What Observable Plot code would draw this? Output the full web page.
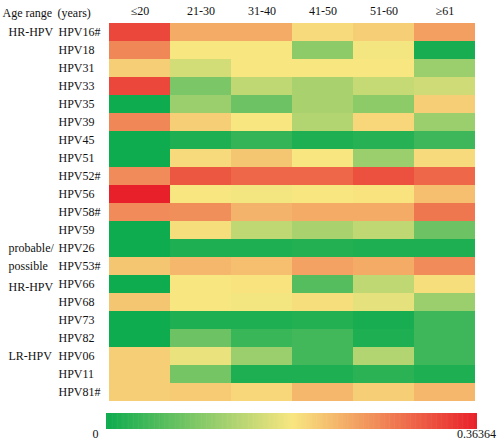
<!DOCTYPE html>
<html>
<head>
<meta charset="utf-8">
<script src="https://cdn.jsdelivr.net/npm/d3@7"></script>
<script src="https://cdn.jsdelivr.net/npm/@observablehq/plot@0.6"></script>
<style>
  html, body { margin: 0; padding: 0; background: #fff; }
  #chart svg { display: block; }
</style>
</head>
<body>
<div id="chart"></div>
<script>
const ageGroups = ["≤20", "21-30", "31-40", "41-50", "51-60", "≥61"];
const hpvTypes = ["HPV16#", "HPV18", "HPV31", "HPV33", "HPV35", "HPV39", "HPV45", "HPV51", "HPV52#", "HPV56", "HPV58#", "HPV59", "HPV26", "HPV53#", "HPV66", "HPV68", "HPV73", "HPV82", "HPV06", "HPV11", "HPV81#"];

// proportion of each HPV type per age group (row order = hpvTypes)
const age20 = [0.327, 0.269, 0.204, 0.327, 0, 0.269, 0, 0, 0.265, 0.364, 0.265, 0, 0, 0.211, 0, 0.211, 0, 0, 0.204, 0.204, 0.204];
const age21_30 = [0.236, 0.182, 0.153, 0.084, 0.109, 0.204, 0.011, 0.193, 0.313, 0.182, 0.262, 0.189, 0.011, 0.225, 0.182, 0.182, 0.011, 0.073, 0.171, 0.08, 0.207];
const age31_40 = [0.236, 0.182, 0.182, 0.138, 0.073, 0.182, 0.029, 0.211, 0.298, 0.178, 0.229, 0.138, 0.011, 0.218, 0.185, 0.178, 0.011, 0.033, 0.109, 0.011, 0.196];
const age41_50 = [0.193, 0.098, 0.182, 0.12, 0.12, 0.127, 0.011, 0.182, 0.298, 0.182, 0.236, 0.12, 0.015, 0.244, 0.055, 0.189, 0.015, 0.04, 0.04, 0.011, 0.225];
const age51_60 = [0.204, 0.178, 0.182, 0.142, 0.098, 0.196, 0.018, 0.109, 0.32, 0.185, 0.236, 0.138, 0.011, 0.236, 0.138, 0.167, 0.007, 0.011, 0.127, 0.022, 0.204];
const age61 = [0.247, 0.007, 0.109, 0.149, 0.204, 0.109, 0.036, 0.193, 0.298, 0.218, 0.284, 0.073, 0.011, 0.265, 0.189, 0.109, 0.036, 0.036, 0.036, 0.011, 0.225];

const groupLabels = ["HR-HPV", "probable/", "possible", "HR-HPV", "LR-HPV"];
const groupRows = ["HPV16#", "HPV26", "HPV53#", "HPV66", "HPV06"];

const legendTicks = [0, 0.36364];
const colorStops = ["#0fab4f", "#f8e680", "#e8202a"];

const series = [age20, age21_30, age31_40, age41_50, age51_60, age61];
const cells = [];
series.forEach((vals, i) => vals.forEach((v, j) => cells.push({age: ageGroups[i], type: hpvTypes[j], value: v})));
const groups = groupLabels.map((l, i) => ({label: l, type: groupRows[i], shift: groupRows[i] === "HPV66" ? 3 : 0}));

const colorOpt = {type: "linear", domain: [legendTicks[0], (legendTicks[0] + legendTicks[1]) / 2, legendTicks[1]], range: colorStops, interpolate: "rgb"};
const font = {fontFamily: "'Liberation Serif', 'DejaVu Serif', serif", fontSize: "12px", color: "#111", background: "#fff"};

const main = Plot.plot({
  width: 500, height: 405,
  marginLeft: 106, marginRight: 23, marginTop: 18, marginBottom: 0,
  style: font,
  x: {domain: ageGroups, padding: 0, label: null},
  y: {domain: hpvTypes, padding: 0, label: null},
  color: colorOpt,
  marks: [
    Plot.cell(cells, {x: "age", y: "type", fill: "value"}),
    Plot.axisX({anchor: "top", tickSize: 0, tickPadding: 4, label: null, fontSize: 12}),
    Plot.axisY({anchor: "left", tickSize: 0, tickPadding: 0, textAnchor: "start", dx: -48, label: null, fontSize: 12}),
    Plot.text(groups.filter(g => g.shift === 0), {y: "type", text: "label", frameAnchor: "left", textAnchor: "start", dx: -98, fontSize: 12}),
    Plot.text(groups.filter(g => g.shift !== 0), {y: "type", text: "label", frameAnchor: "left", textAnchor: "start", dx: -98, dy: 3, fontSize: 12}),
    Plot.text(["Age range"], {frameAnchor: "top-left", textAnchor: "start", dx: -104, dy: -10, fontSize: 12}),
    Plot.text(["(years)"], {frameAnchor: "top-left", textAnchor: "start", dx: -49, dy: -10, fontSize: 12})
  ]
});

const step = (legendTicks[1] - legendTicks[0]) / 300;
const ramp = d3.range(legendTicks[0], legendTicks[1], step);
const legend = Plot.plot({
  width: 500, height: 37,
  marginLeft: 106, marginRight: 23, marginTop: 8, marginBottom: 13,
  style: font,
  x: {domain: legendTicks, axis: null},
  color: colorOpt,
  marks: [
    Plot.barX(ramp, {x1: d => d, x2: d => Math.min(d + step * 1.5, legendTicks[1]), fill: d => d}),
    Plot.text([legendTicks[0]], {x: d => d, text: d => String(d), frameAnchor: "bottom", dy: 8, dx: -11, textAnchor: "middle", fontSize: 12}),
    Plot.text([legendTicks[1]], {x: d => d, text: d => String(d), frameAnchor: "bottom", dy: 8, dx: -1, textAnchor: "middle", fontSize: 12})
  ]
});

document.getElementById("chart").append(main, legend);
</script>
</body>
</html>
